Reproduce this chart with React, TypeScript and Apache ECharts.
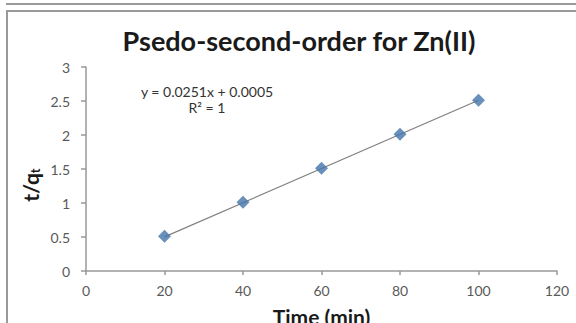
import React, { useEffect, useRef } from "react";
import * as echarts from "echarts";

// Contact time (min) and t/qt values
const timeMin = [20, 40, 60, 80, 100];
const tOverQt = [0.51, 1.01, 1.51, 2.01, 2.51];

// Linear fit reported on the chart
const fitSlope = 0.0251;
const fitIntercept = 0.0005;
const fitRange = [20, 100];

const xTicks = { min: 0, max: 120, interval: 20 };
const yTicks = { min: 0, max: 3, interval: 0.5 };

const FONT = "Lato, 'Liberation Sans', sans-serif";

export default function App() {
  const ref = useRef<HTMLDivElement>(null);

  useEffect(() => {
    document.body.style.margin = "0";
    if (!ref.current) return;
    const chart = echarts.init(ref.current, null, { renderer: "svg" });

    const points = timeMin.map((t, i) => [t, tOverQt[i]]);
    const fitLine = fitRange.map((x) => [x, fitSlope * x + fitIntercept]);

    chart.setOption({
      animation: false,
      backgroundColor: "#ffffff",
      title: {
        text: "Psedo-second-order for Zn(II)",
        left: 294,
        top: 22,
        textAlign: "center",
        textStyle: {
          fontFamily: FONT,
          fontWeight: "bold",
          fontSize: 27,
          color: "#1a1a1a",
        },
      },
      graphic: [
        { type: "rect", shape: { x: 6, y: 3, width: 570, height: 2 }, style: { fill: "#9a9a9a" } },
        { type: "rect", shape: { x: 6, y: 10, width: 570, height: 2 }, style: { fill: "#9a9a9a" } },
        { type: "rect", shape: { x: 6, y: 10, width: 2, height: 313 }, style: { fill: "#9a9a9a" } },
        {
          type: "text",
          x: 207,
          y: 91,
          style: {
            text: "y = 0.0251x + 0.0005",
            align: "center",
            verticalAlign: "middle",
            fontFamily: FONT,
            fontSize: 14,
            fill: "#333333",
          },
        },
        {
          type: "text",
          x: 207,
          y: 107,
          style: {
            text: "R² = 1",
            align: "center",
            verticalAlign: "middle",
            fontFamily: FONT,
            fontSize: 14,
            fill: "#333333",
          },
        },
        {
          // y-axis title with subscript
          type: "text",
          x: 30,
          y: 185,
          rotation: Math.PI / 2,
          style: {
            text: "t/q{sub|t}",
            align: "center",
            verticalAlign: "middle",
            fontFamily: FONT,
            fontWeight: "bold",
            fontSize: 21,
            fill: "#1a1a1a",
            rich: {
              sub: {
                fontFamily: FONT,
                fontWeight: "bold",
                fontSize: 13,
                fill: "#1a1a1a",
                padding: [10, 0, 0, 0],
              },
            },
          },
        },
      ],
      grid: { left: 86, right: 19, top: 67, bottom: 52, outerBoundsMode: "none", containLabel: false },
      xAxis: {
        type: "value",
        min: xTicks.min,
        max: xTicks.max,
        interval: xTicks.interval,
        name: "Time (min)",
        nameLocation: "middle",
        nameGap: 35,
        nameTextStyle: { fontFamily: FONT, fontWeight: "bold", fontSize: 21, color: "#1a1a1a" },
        axisLine: { lineStyle: { color: "#999999", width: 1.5 } },
        axisTick: { show: true, inside: false, length: 4, lineStyle: { color: "#999999", width: 1.5 } },
        axisLabel: { fontFamily: FONT, fontSize: 14, color: "#595959", margin: 12 },
        splitLine: { show: false },
      },
      yAxis: {
        type: "value",
        min: yTicks.min,
        max: yTicks.max,
        interval: yTicks.interval,
        axisLine: { show: true, lineStyle: { color: "#999999", width: 1.5 } },
        axisTick: { show: true, inside: false, length: 5, lineStyle: { color: "#999999", width: 1.5 } },
        axisLabel: { fontFamily: FONT, fontSize: 14, color: "#595959", margin: 16 },
        splitLine: { show: false },
      },
      series: [
        {
          type: "line",
          data: fitLine,
          symbol: "none",
          lineStyle: { color: "#808080", width: 1.2 },
          z: 2,
        },
        {
          type: "scatter",
          data: points,
          symbol: "diamond",
          symbolSize: 13,
          itemStyle: { color: "#4473aa" },
          z: 3,
        },
      ],
    });

    return () => chart.dispose();
  }, []);

  return <div ref={ref} style={{ width: 576, height: 323 }} />;
}
